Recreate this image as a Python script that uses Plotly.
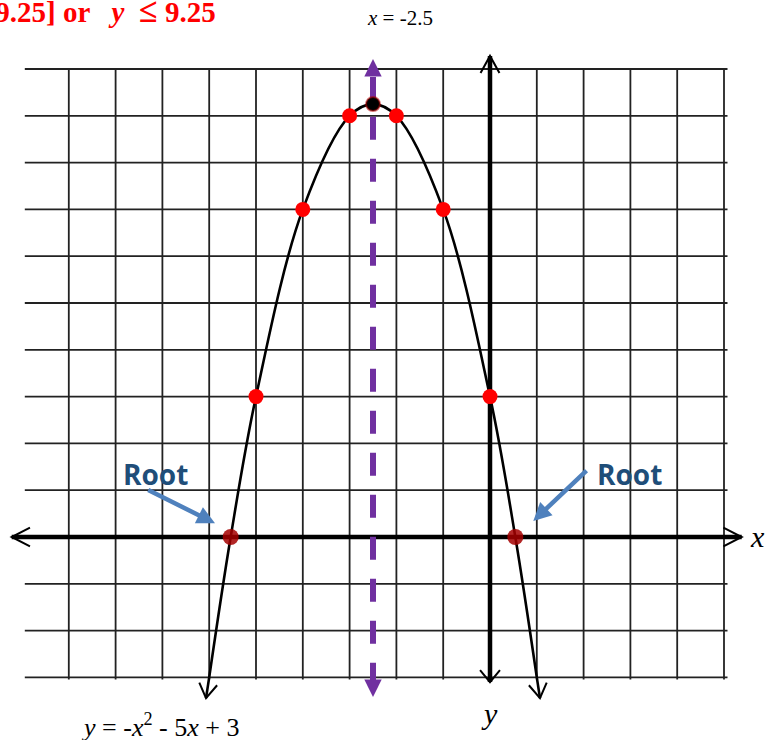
import math
import plotly.graph_objects as go

# ---------------- data ----------------
table_x = [-5, -4, -3, -2, -1, 0]
table_y = [3, 7, 9, 9, 7, 3]
vertex_x = [-2.5]
vertex_y = [9.25]
root_x = [-5.541, 0.541]
root_y = [0, 0]
curve_x = [-6, -5.541, -5, -4, -3, -2.5, -2, -1, 0, 0.541, 1]
curve_y = [-3, 0, 3, 7, 9, 9.25, 9, 7, 3, 0, -3]
grid_x = list(range(-9, 6))
grid_y = list(range(-3, 11))
axis_of_symmetry = -2.5

# ---------------- layout scale ----------------
W, H = 776, 740
PX = 46.8                      # pixels per unit
X0_PX, Y0_PX = 490, 537        # pixel position of origin
x_range = [-X0_PX / PX, (W - X0_PX) / PX]
y_range = [-(H - Y0_PX) / PX, Y0_PX / PX]
u = 1 / PX                      # one pixel in data units

fig = go.Figure()

# grid
gx, gy = [], []
for v in grid_x:
    gx += [v, v, None]
    gy += [grid_y[0] - 2 * u, grid_y[-1], None]
for h in grid_y:
    gx += [grid_x[0] - 44 * u, grid_x[-1] + 3.5 * u, None]
    gy += [h, h, None]
fig.add_trace(go.Scatter(x=gx, y=gy, mode="lines",
                         line=dict(color="#222222", width=1.8),
                         hoverinfo="skip", showlegend=False))

shapes = []

def chevron(tx, ty, ang, length_px, half_deg, color="black", width=2):
    L = length_px * u
    pts = []
    for s in (1, -1):
        a = math.radians(ang + 180 + s * half_deg)
        pts.append((tx + L * math.cos(a), ty + L * math.sin(a)))
    path = f"M {pts[0][0]},{pts[0][1]} L {tx},{ty} L {pts[1][0]},{pts[1][1]}"
    shapes.append(dict(type="path", path=path, xref="x", yref="y",
                       line=dict(color=color, width=width)))

def tri(tx, ty, ang, length_px, halfw_px, color):
    L = length_px * u
    hw = halfw_px * u
    a = math.radians(ang)
    bx, by = tx - L * math.cos(a), ty - L * math.sin(a)
    px_, py_ = -math.sin(a), math.cos(a)
    path = (f"M {tx},{ty} L {bx + hw * px_},{by + hw * py_} "
            f"L {bx - hw * px_},{by - hw * py_} Z")
    shapes.append(dict(type="path", path=path, xref="x", yref="y",
                       fillcolor=color, line=dict(color=color, width=0)))

# axes
x_left, x_right = grid_x[0] - 1.22, grid_x[-1] + 0.378
y_bot, y_top = grid_y[0] - 0.10, grid_y[-1] + 0.28
fig.add_trace(go.Scatter(x=[x_left, x_right], y=[0, 0], mode="lines",
                         line=dict(color="black", width=4.5),
                         hoverinfo="skip", showlegend=False))
fig.add_trace(go.Scatter(x=[0, 0], y=[y_bot, y_top], mode="lines",
                         line=dict(color="black", width=4.5),
                         hoverinfo="skip", showlegend=False))
chevron(x_left, 0, 180, 20.5, 27)
chevron(x_right, 0, 0, 20.5, 27)
chevron(0, y_top, 90, 19.5, 29)
chevron(0, y_bot, -90, 15.5, 40)

# axis of symmetry (purple dashed)
purple = "#7030A0"
s_bot, s_top = grid_y[0] - 0.18, grid_y[-1] - 0.17
fig.add_trace(go.Scatter(x=[axis_of_symmetry] * 2, y=[s_bot, s_top], mode="lines",
                         line=dict(color=purple, width=6, dash="23px,19px"),
                         hoverinfo="skip", showlegend=False))
tri(axis_of_symmetry, s_top + 18 * u, 90, 17.5, 8.7, purple)
tri(axis_of_symmetry, grid_y[0] - 0.42, -90, 17.5, 8.7, purple)

# parabola
fig.add_trace(go.Scatter(x=curve_x, y=curve_y, mode="lines",
                         line=dict(color="black", width=2.6, shape="spline", smoothing=1),
                         hoverinfo="skip", showlegend=False))
# extensions + chevrons at curve ends
for i0, i1 in ((1, 0), (-2, -1)):
    xa, ya = curve_x[i0], curve_y[i0]
    xb, yb = curve_x[i1], curve_y[i1]
    ang = math.degrees(math.atan2(yb - ya, xb - xa))
    ext = 21 * u
    tx = xb + ext * math.cos(math.radians(ang))
    ty = yb + ext * math.sin(math.radians(ang))
    fig.add_trace(go.Scatter(x=[xb, tx], y=[yb, ty], mode="lines",
                             line=dict(color="black", width=2.6),
                             hoverinfo="skip", showlegend=False))
    chevron(tx, ty, ang, 17, 32)

# points
fig.add_trace(go.Scatter(x=table_x, y=table_y, mode="markers",
                         marker=dict(color="#FF0000", size=15, line=dict(width=0)),
                         hoverinfo="skip", showlegend=False))
fig.add_trace(go.Scatter(x=root_x, y=root_y, mode="markers",
                         marker=dict(color="rgba(165,0,0,0.85)", size=16, line=dict(width=0)),
                         hoverinfo="skip", showlegend=False))
fig.add_trace(go.Scatter(x=vertex_x, y=vertex_y, mode="markers",
                         marker=dict(color="black", size=14,
                                     line=dict(color="rgba(180,0,0,0.55)", width=2)),
                         hoverinfo="skip", showlegend=False))

annotations = []
blue_arrow = "#4F81BD"
root_tail = [(-7.335, 1.02), (2.094, 1.447)]
root_tip = [(-5.876, 0.293), (0.925, 0.342)]
root_label = [(-7.158, 1.346), (2.97, 1.346)]
for (ax_, ay_), (tx_, ty_), (lx, ly) in zip(root_tail, root_tip, root_label):
    annotations.append(dict(x=tx_, y=ty_, ax=ax_, ay=ay_, xref="x", yref="y",
                            axref="x", ayref="y", text="", showarrow=True,
                            arrowhead=2, arrowsize=0.8, arrowwidth=4.5,
                            arrowcolor=blue_arrow, standoff=0, startstandoff=0))
    annotations.append(dict(x=lx, y=ly, xref="x", yref="y", text="<b>Root</b>",
                            showarrow=False, xanchor="center", yanchor="middle",
                            font=dict(family="Open Sans", size=28, color="#1F4E79")))

serif = "Liberation Serif, Times New Roman, serif"
annotations.append(dict(x=218 / W, y=1 - 11 / H, xref="paper", yref="paper",
                        xanchor="right", yanchor="middle", showarrow=False,
                        text=("<b>Range: (-∞, 9.25] or &nbsp; <i>y</i>&nbsp; "
                              "<span style='font-size:34px'>≤</span> 9.25</b>"),
                        font=dict(family=serif, size=29, color="#FF0000")))
annotations.append(dict(x=400 / W, y=1 - 18 / H, xref="paper", yref="paper",
                        xanchor="center", yanchor="middle", showarrow=False,
                        text="<i>x</i> = -2.5",
                        font=dict(family=serif, size=21, color="black")))
annotations.append(dict(x=160 / W, y=1 - 725 / H, xref="paper", yref="paper",
                        xanchor="center", yanchor="middle", showarrow=False,
                        text="<i>y</i> = -<i>x</i><sup>2</sup> - 5<i>x</i> + 3",
                        font=dict(family=serif, size=26, color="black")))
annotations.append(dict(x=757 / W, y=1 - 536 / H, xref="paper", yref="paper",
                        xanchor="center", yanchor="middle", showarrow=False,
                        text="<i>x</i>", font=dict(family=serif, size=30, color="black")))
annotations.append(dict(x=489 / W, y=1 - 713 / H, xref="paper", yref="paper",
                        xanchor="center", yanchor="middle", showarrow=False,
                        text="<i>y</i>", font=dict(family=serif, size=30, color="black")))

fig.update_layout(
    width=W, height=H, margin=dict(l=0, r=0, t=0, b=0),
    paper_bgcolor="white", plot_bgcolor="white",
    xaxis=dict(range=x_range, visible=False, fixedrange=True),
    yaxis=dict(range=y_range, visible=False, fixedrange=True),
    shapes=shapes, annotations=annotations, showlegend=False,
)
fig.write_html("out.html", config={"displayModeBar": False},
               post_script="document.body.style.margin='0';document.body.style.padding='0';")
